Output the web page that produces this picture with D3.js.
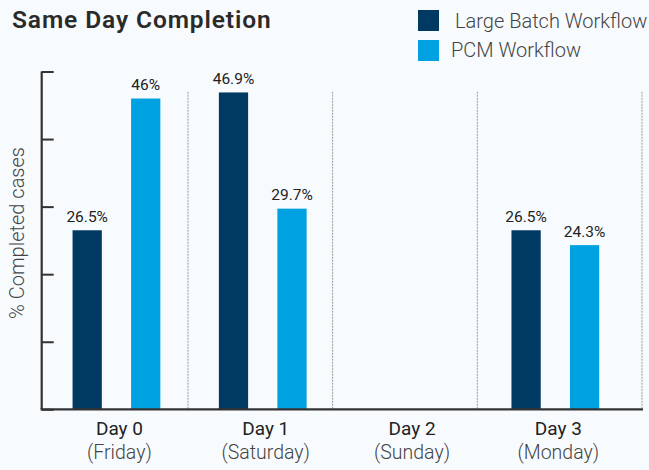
<!DOCTYPE html>
<html>
<head>
<meta charset="utf-8">
<script src="https://cdn.jsdelivr.net/npm/d3@7"></script>
<style>
  html, body { margin: 0; padding: 0; background: #f7fbfe; }
  svg { display: block; }
  text { font-family: Roboto, "Noto Sans", sans-serif; }
</style>
</head>
<body>
<svg id="chart" width="649" height="470"></svg>
<script>
const title = "Same Day Completion";
const yLabel = "% Completed cases";
const days = ["Day 0", "Day 1", "Day 2", "Day 3"];
const weekdays = ["(Friday)", "(Saturday)", "(Sunday)", "(Monday)"];
const seriesNames = ["Large Batch Workflow", "PCM Workflow"];
const largeBatch = [26.5, 46.9, null, 26.5];
const pcm = [46, 29.7, null, 24.3];
const valueLabels = {
  "Large Batch Workflow": ["26.5%", "46.9%", null, "26.5%"],
  "PCM Workflow": ["46%", "29.7%", null, "24.3%"]
};
const yTicks = [0, 10, 20, 30, 40, 50];
const colors = ["#003a63", "#00a1e1"];

const svg = d3.select("#chart");

const x = d3.scaleBand().domain(days).range([43.3, 628.5]).paddingInner(0).paddingOuter(0);
const xSep = d3.scaleBand().domain(days).range([43.3, 622]);
const xInner = d3.scaleBand().domain(seriesNames).range([0, x.bandwidth()]).paddingInner(0.5).paddingOuter(0.5);
const y = d3.scaleLinear().domain([0, 50]).range([409.3, 71.5]);

const seriesValues = [largeBatch, pcm];
const rows = [];
days.forEach((d, i) => {
  seriesNames.forEach((s, j) => {
    rows.push({ day: d, series: s, value: seriesValues[j][i], label: valueLabels[s][i], color: colors[j] });
  });
});

// separators (dotted)
const sepG = svg.append("g");
days.slice(0, 3).forEach(d => {
  sepG.append("line")
    .attr("x1", xSep(d) + xSep.bandwidth()).attr("x2", xSep(d) + xSep.bandwidth())
    .attr("y1", y(47)).attr("y2", y(0))
    .attr("stroke", "#9a9a9a").attr("stroke-width", 1).attr("stroke-dasharray", "2,1");
});
sepG.append("line")
  .attr("x1", 642).attr("x2", 642).attr("y1", y(47)).attr("y2", y(0))
  .attr("stroke", "#9a9a9a").attr("stroke-width", 1).attr("stroke-dasharray", "2,1");

// bars
const barRows = rows.filter(r => r.value != null);
svg.append("g").selectAll("rect").data(barRows).join("rect")
  .attr("x", r => x(r.day) + xInner(r.series))
  .attr("width", xInner.bandwidth())
  .attr("y", r => y(r.value))
  .attr("height", r => y(0) - y(r.value))
  .attr("fill", r => r.color);

svg.append("g").selectAll("text").data(barRows).join("text")
  .attr("x", r => x(r.day) + xInner(r.series) + xInner.bandwidth() / 2)
  .attr("y", r => y(r.value) - 8.5)
  .attr("text-anchor", "middle")
  .attr("font-size", 15.5)
  .attr("fill", "#222")
  .text(r => r.label);

// y axis
const yAxis = d3.axisRight(y).tickValues(yTicks).tickSize(12).tickFormat("");
const yG = svg.append("g").attr("transform", "translate(41.7,0)").call(yAxis);
yG.select(".domain").attr("stroke", "#333").attr("stroke-width", 2.2).attr("d", `M0,${y(50)}V${y(0)}`);
yG.selectAll(".tick line").attr("stroke", "#333").attr("stroke-width", 2);

// baseline
svg.append("line")
  .attr("x1", 40.6).attr("x2", 643)
  .attr("y1", y(0)).attr("y2", y(0))
  .attr("stroke", "#333").attr("stroke-width", 2.2);

// x labels
const xl = svg.append("g");
days.forEach((d, i) => {
  const cx = x(d) + x.bandwidth() / 2 + 3;
  xl.append("text").attr("x", cx).attr("y", 435).attr("text-anchor", "middle")
    .attr("font-size", 19).attr("fill", "#222").text(d);
  xl.append("text").attr("x", cx).attr("y", 459).attr("text-anchor", "middle")
    .attr("font-size", 19.5).attr("font-weight", 300).attr("fill", "#444").text(weekdays[i]);
});

// y label
svg.append("text")
  .attr("transform", "translate(23.5,233) rotate(-90)")
  .attr("text-anchor", "middle")
  .attr("font-size", 20).attr("font-weight", 300).attr("fill", "#444")
  .text(yLabel);

// title
svg.append("text").attr("x", 12).attr("y", 27.5)
  .attr("font-size", 24.5).attr("font-weight", 600).attr("fill", "#2a2a2a")
  .attr("letter-spacing", 0.9)
  .text(title);

// legend
const lg = svg.append("g");
seriesNames.forEach((s, i) => {
  lg.append("rect").attr("x", 418).attr("y", 10 + i * 30).attr("width", 21).attr("height", 21).attr("fill", colors[i]);
  lg.append("text").attr("x", i === 0 ? 455 : 451).attr("y", 27.5 + i * 29.5)
    .attr("font-size", 20).attr("font-weight", 300).attr("fill", "#444").text(s);
});
</script>
</body>
</html>
